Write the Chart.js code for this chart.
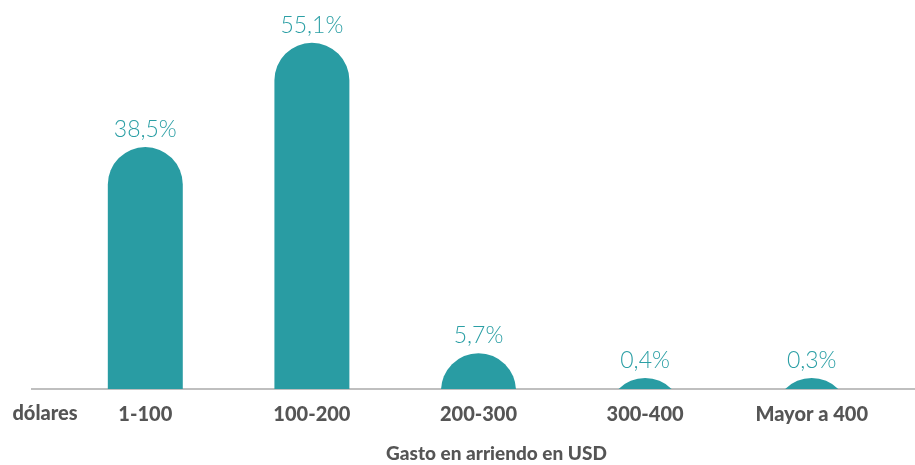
<!DOCTYPE html>
<html>
<head>
<meta charset="utf-8">
<script src="https://cdn.jsdelivr.net/npm/chart.js@4.4.1/dist/chart.umd.min.js"></script>
<style>
  html, body { margin: 0; padding: 0; background: #ffffff; }
  #wrap { width: 915px; height: 465px; position: relative; }
</style>
</head>
<body>
<div id="wrap"><canvas id="c"></canvas></div>
<script>
// ---- data ----
const categories = ['1-100', '100-200', '200-300', '300-400', 'Mayor a 400'];
const shares = [38.5, 55.1, 5.7, 0.4, 0.3];
const leftNote = 'dólares';
const axisTitle = 'Gasto en arriendo en USD';
const yMin = 0;
const yMax = 60;

const TEAL = '#299ca3';
const LABEL_TEAL = '#2b9fa5';
const GRAY_TEXT = '#555555';
const BASE_GRAY = '#bfbfbf';

function fmt(v) { return v.toFixed(1).replace('.', ',') + '%'; }

const domePlugin = {
  id: 'dome',
  afterDatasetsUpdate(chart) {
    const meta = chart.getDatasetMeta(0);
    meta.data.forEach(el => {
      // extend bar below the baseline so the rounded top reads as a dome, then clip at chart area
      el.base = el.base + el.width;
    });
  },
  beforeDatasetsDraw(chart) {
    const ctx = chart.ctx;
    const y = chart.scales.y.getPixelForValue(0);
    ctx.save();
    ctx.strokeStyle = BASE_GRAY;
    ctx.lineWidth = 2;
    ctx.beginPath();
    ctx.moveTo(chart.chartArea.left - 31, y);
    ctx.lineTo(chart.width, y);
    ctx.stroke();
    ctx.restore();
  },
  afterDatasetsDraw(chart) {
    const ctx = chart.ctx;
    const meta = chart.getDatasetMeta(0);
    ctx.save();
    ctx.fillStyle = LABEL_TEAL;
    ctx.font = '300 23px Lato';
    ctx.textAlign = 'center';
    ctx.textBaseline = 'alphabetic';
    meta.data.forEach((el, i) => {
      ctx.fillText(fmt(shares[i]), el.x, el.y - 10);
    });
    ctx.restore();
  },
  afterDraw(chart) {
    const ctx = chart.ctx;
    const ca = chart.chartArea;
    ctx.save();
    ctx.fillStyle = GRAY_TEXT;
    ctx.font = '900 20px Lato';
    ctx.textAlign = 'center';
    ctx.textBaseline = 'middle';
    ctx.fillText(leftNote, ca.left - 17, ca.bottom + 25);
    ctx.font = '900 19px Lato';
    ctx.fillText(axisTitle, (ca.left + ca.right) / 2 + 18, ca.bottom + 65);
    ctx.restore();
  }
};

new Chart(document.getElementById('c'), {
  type: 'bar',
  data: {
    labels: categories,
    datasets: [{
      data: shares,
      backgroundColor: TEAL,
      borderWidth: 0,
      borderRadius: { topLeft: 999, topRight: 999, bottomLeft: 0, bottomRight: 0 },
      borderSkipped: 'start',
      minBarLength: 11,
      barPercentage: 0.9,
      categoryPercentage: 0.5,
      clip: 0
    }]
  },
  options: {
    responsive: true,
    maintainAspectRatio: false,
    animation: false,
    layout: { padding: { left: 62, right: 20, top: 12, bottom: 24 } },
    plugins: { legend: { display: false }, tooltip: { enabled: false } },
    scales: {
      x: {
        grid: { display: false, drawTicks: false },
        border: { display: false },
        ticks: { color: GRAY_TEXT, font: { family: 'Lato', size: 20, weight: '900' }, padding: 14, maxRotation: 0 }
      },
      y: { display: false, min: yMin, max: yMax }
    }
  },
  plugins: [domePlugin]
});
</script>
</body>
</html>
